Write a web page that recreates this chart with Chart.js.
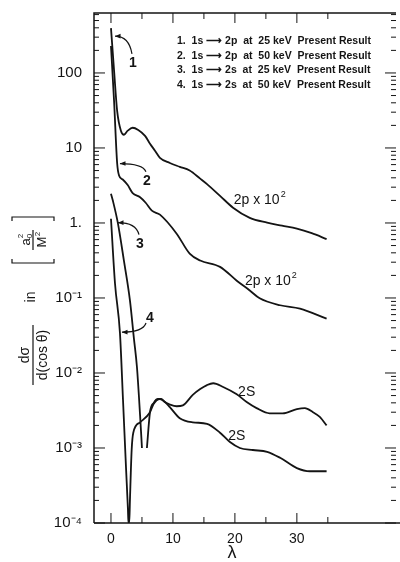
<!DOCTYPE html>
<html>
<head>
<meta charset="utf-8">
<script src="https://cdn.jsdelivr.net/npm/chart.js@4/dist/chart.umd.min.js"></script>
<style>
  html, body { margin: 0; padding: 0; background: #fff; }
  #chart { display: block; }
</style>
</head>
<body>
<canvas id="chart" width="400" height="562"></canvas>
<script>
// values: λ and dσ/d(cos θ) in a0²/M²

// 1. 1s -> 2p at 25 keV (x 10²)
const lam1 = [0, 0.5, 1.0, 1.6, 2.1, 2.7, 3.5, 4.4, 5.5, 6.3, 7.1, 7.9, 9.5, 11.1, 12.7, 14.4, 15.5, 17.6, 19.7, 22.4, 25.2, 27.6, 30.0, 32.4, 34.8];
const val1 = [396, 107, 31, 17, 15, 17, 18.6, 17.4, 14.5, 11.4, 9.2, 7.4, 6.3, 5.6, 5.0, 3.9, 3.3, 2.3, 1.6, 1.17, 1.01, 0.92, 0.84, 0.73, 0.61];

// 2. 1s -> 2p at 50 keV (x 10²)
const lam2 = [0, 0.5, 1.0, 1.3, 1.9, 2.7, 3.5, 4.7, 5.6, 6.6, 7.9, 10.6, 12.7, 14.4, 17.6, 20.3, 22.4, 24.0, 27.3, 30.5, 34.8];
const val2 = [229, 42, 6.2, 4.3, 3.8, 3.2, 2.5, 2.2, 1.86, 1.46, 1.29, 0.72, 0.39, 0.316, 0.26, 0.17, 0.126, 0.099, 0.080, 0.072, 0.053];

// 3. 1s -> 2s at 25 keV (null = break at the zero near λ = 5)
const lam3 = [0, 0.3, 1.1, 2.1, 3.06, 3.7, 4.19, 4.7, 5.0, 5.4, 5.8, 6.3, 6.9, 7.6, 8.1, 8.7, 9.5, 10.6, 11.6, 13.2, 14.4, 15.5, 16.5, 18.1, 20.3, 21.9, 23.5, 25.6, 27.7, 30.0, 31.3, 32.6, 33.7, 34.8];
const val3 = [2.46, 1.99, 1.01, 0.31, 0.093, 0.029, 0.012, 0.0027, 0.001, null, 0.001, 0.0030, 0.0040, 0.0045, 0.0045, 0.0041, 0.0038, 0.0036, 0.0037, 0.0051, 0.0061, 0.0069, 0.0073, 0.0065, 0.0052, 0.0041, 0.0034, 0.0029, 0.0029, 0.0033, 0.0034, 0.0030, 0.0026, 0.0020];

// 4. 1s -> 2s at 50 keV
const lam4 = [0, 0.65, 1.45, 1.94, 2.42, 2.74, 2.82, 2.95, 3.06, 3.34, 3.6, 4.7, 6.3, 6.9, 7.9, 8.7, 9.5, 11.1, 13.2, 15.5, 17.6, 19.2, 20.8, 22.9, 25.2, 27.3, 30.0, 32.1, 34.8];
const val4 = [1.14, 0.156, 0.034, 0.0044, 0.00056, 0.00015, 0.0001, 0.0001, 0.0002, 0.00095, 0.0016, 0.0022, 0.0030, 0.0039, 0.0045, 0.0041, 0.0035, 0.0025, 0.0022, 0.0021, 0.0016, 0.0012, 0.0010, 0.00094, 0.00089, 0.00074, 0.00054, 0.00049, 0.00049];

const legendLines = [
    '1.  1s \u27F6 2p  at  25 keV  Present Result',
    '2.  1s \u27F6 2p  at  50 keV  Present Result',
    '3.  1s \u27F6 2s  at  25 keV  Present Result',
    '4.  1s \u27F6 2s  at  50 keV  Present Result',
];

// tick values / labels
const xTickValues = [0, 5, 10, 15, 20, 25, 30, 35];
const xLabelValues = [0, 10, 20, 30];
const yDecades = [-4, -3, -2, -1, 0, 1, 2];
const yDecadeLabels = ['10\u207B\u2074', '10\u207B\u00B3', '10\u207B\u00B2', '10\u207B\u00B9', '1.', '10', '100'];

const X_MIN = -2.74, X_MAX = 46, Y_MIN = 1e-4, Y_MAX = 630;
const FONT = '"Liberation Sans", Arial, sans-serif';
const INK = '#141414';

function pts(xs, ys) {
    return xs.map((x, i) => ({ x: x, y: ys[i] }));
}

function decadeOf(v) {
    const e = Math.round(Math.log10(v));
    return Math.abs(Math.log10(v) - e) < 1e-6 ? e : null;
}

// curve labels: text, label position (λ, value), arrow tip (λ, value), arrow start offset
const curveTags = [
    { text: '1', at: [3.55, 136], tip: [0.65, 309], from: [-1, -9] },
    { text: '2', at: [5.8, 3.66], tip: [1.45, 6.2], from: [-1, -9] },
    { text: '3', at: [4.68, 0.53], tip: [1.13, 1.01], from: [-1, -9] },
    { text: '4', at: [6.3, 0.054], tip: [1.77, 0.035], from: [-4, 5] },
];
const curveNotes = [
    { text: '2p x 10', sup: '2', at: [24.0, 1.99] },
    { text: '2p x 10', sup: '2', at: [25.8, 0.166] },
    { text: '2S', at: [21.9, 0.0056] },
    { text: '2S', at: [20.3, 0.00144] },
];

function line(ctx, x1, y1, x2, y2) {
    ctx.beginPath();
    ctx.moveTo(x1, y1);
    ctx.lineTo(x2, y2);
    ctx.stroke();
}

const decorations = {
    id: 'decorations',
    afterDraw(chart) {
        const { ctx, chartArea: a, scales: { x, y } } = chart;
        ctx.save();
        ctx.strokeStyle = INK;
        ctx.fillStyle = INK;

        // frame: left, top, bottom; right side only has ticks
        ctx.lineWidth = 1.5;
        ctx.beginPath();
        ctx.moveTo(a.left, a.bottom);
        ctx.lineTo(a.left, a.top);
        ctx.lineTo(a.right, a.top);
        ctx.moveTo(a.left, a.bottom);
        ctx.lineTo(chart.width, a.bottom);
        ctx.stroke();

        // inward ticks
        ctx.lineWidth = 1;
        y.ticks.forEach(t => {
            const py = y.getPixelForValue(t.value);
            const len = decadeOf(t.value) !== null ? 11 : 5;
            line(ctx, a.left, py, a.left + len, py);
            line(ctx, a.right, py, a.right - len, py);
        });
        x.ticks.forEach(t => {
            const px = x.getPixelForValue(t.value);
            const len = t.value % 10 === 0 ? 10 : 6;
            line(ctx, px, a.bottom, px, a.bottom - len);
            line(ctx, px, a.top, px, a.top + len);
        });

        // legend block
        ctx.font = 'bold 10.5px ' + FONT;
        ctx.textAlign = 'left';
        ctx.textBaseline = 'middle';
        legendLines.forEach((s, i) => ctx.fillText(s, 177, 41 + i * 14.7));

        // numbered tags with curved arrows
        ctx.font = 'bold 14px ' + FONT;
        ctx.textAlign = 'center';
        ctx.lineWidth = 1.2;
        curveTags.forEach(t => {
            const lx = x.getPixelForValue(t.at[0]), ly = y.getPixelForValue(t.at[1]);
            const tx = x.getPixelForValue(t.tip[0]), ty = y.getPixelForValue(t.tip[1]);
            ctx.fillText(t.text, lx, ly);
            const sx = lx + t.from[0], sy = ly + t.from[1];
            const cx = sx - 3, cy = ty;
            ctx.beginPath();
            ctx.moveTo(sx, sy);
            ctx.quadraticCurveTo(cx, cy, tx, ty);
            ctx.stroke();
            const ang = Math.atan2(ty - cy, tx - cx);
            ctx.beginPath();
            ctx.moveTo(tx, ty);
            ctx.lineTo(tx - 6 * Math.cos(ang - 0.4), ty - 6 * Math.sin(ang - 0.4));
            ctx.lineTo(tx - 6 * Math.cos(ang + 0.4), ty - 6 * Math.sin(ang + 0.4));
            ctx.closePath();
            ctx.fill();
        });

        // notes on the curves
        curveNotes.forEach(n => {
            const px = x.getPixelForValue(n.at[0]), py = y.getPixelForValue(n.at[1]);
            ctx.font = '14px ' + FONT;
            ctx.textAlign = 'left';
            const w = ctx.measureText(n.text).width + (n.sup ? 6 : 0);
            ctx.fillText(n.text, px - w / 2, py);
            if (n.sup) {
                ctx.font = '9px ' + FONT;
                ctx.fillText(n.sup, px + w / 2 - 5, py - 6);
            }
        });

        // x axis title
        ctx.font = '18px ' + FONT;
        ctx.textAlign = 'center';
        ctx.fillText('\u03BB', 232, 553);

        // y axis title, rotated
        ctx.save();
        ctx.translate(33, 355);
        ctx.rotate(-Math.PI / 2);
        ctx.font = '14px ' + FONT;
        ctx.textAlign = 'center';
        ctx.textBaseline = 'alphabetic';
        ctx.fillText('d\u03C3', 0, -4);
        ctx.lineWidth = 1.2;
        line(ctx, -30, 0, 30, 0);
        ctx.textBaseline = 'top';
        ctx.fillText('d(cos \u03B8)', 0, 3);
        ctx.restore();

        ctx.save();
        ctx.translate(31, 297);
        ctx.rotate(-Math.PI / 2);
        ctx.font = '14px ' + FONT;
        ctx.textAlign = 'center';
        ctx.textBaseline = 'middle';
        ctx.fillText('in', 0, 0);
        ctx.restore();

        ctx.save();
        ctx.translate(33, 240);
        ctx.rotate(-Math.PI / 2);
        ctx.lineWidth = 1.2;
        ctx.beginPath();
        ctx.moveTo(-19, -21); ctx.lineTo(-23, -21); ctx.lineTo(-23, 21); ctx.lineTo(-19, 21);
        ctx.moveTo(19, -21); ctx.lineTo(23, -21); ctx.lineTo(23, 21); ctx.lineTo(19, 21);
        ctx.stroke();
        line(ctx, -10, 0, 10, 0);
        ctx.font = '13px ' + FONT;
        ctx.textAlign = 'center';
        ctx.textBaseline = 'alphabetic';
        ctx.fillText('a', -2, -3);
        ctx.font = '8px ' + FONT;
        ctx.fillText('0', 4, -1);
        ctx.fillText('2', 4, -10);
        ctx.font = '13px ' + FONT;
        ctx.textBaseline = 'top';
        ctx.fillText('M', -2, 3);
        ctx.font = '8px ' + FONT;
        ctx.fillText('2', 6, 1);
        ctx.restore();

        ctx.restore();
    }
};

const lineStyle = {
    borderColor: INK,
    borderWidth: 1.8,
    pointRadius: 0,
    fill: false,
    cubicInterpolationMode: 'monotone',
    spanGaps: false,
};

new Chart(document.getElementById('chart'), {
    type: 'line',
    data: {
        datasets: [
            { label: '1s\u21922p at 25 keV', data: pts(lam1, val1), ...lineStyle },
            { label: '1s\u21922p at 50 keV', data: pts(lam2, val2), ...lineStyle },
            { label: '1s\u21922s at 25 keV', data: pts(lam3, val3), ...lineStyle },
            { label: '1s\u21922s at 50 keV', data: pts(lam4, val4), ...lineStyle },
        ]
    },
    options: {
        responsive: false,
        animation: false,
        devicePixelRatio: 1,
        layout: { padding: { top: 12, right: 4, left: 0, bottom: 0 } },
        scales: {
            x: {
                type: 'linear',
                min: X_MIN,
                max: X_MAX,
                afterBuildTicks: s => { s.ticks = xTickValues.map(v => ({ value: v })); },
                afterFit: s => { s.height = 39; },
                grid: { display: false },
                border: { display: false },
                ticks: {
                    autoSkip: false,
                    maxRotation: 0,
                    padding: 0,
                    color: INK,
                    font: { family: FONT, size: 14 },
                    callback: v => xLabelValues.includes(v) ? String(v) : '',
                },
            },
            y: {
                type: 'logarithmic',
                min: Y_MIN,
                max: Y_MAX,
                afterBuildTicks: s => {
                    const ticks = [];
                    yDecades.forEach(e => {
                        for (let m = 1; m <= 9; m++) {
                            const v = m * Math.pow(10, e);
                            if (v <= Y_MAX * 1.0001) ticks.push({ value: v });
                        }
                    });
                    s.ticks = ticks;
                },
                afterFit: s => { s.width = 94; },
                grid: { display: false },
                border: { display: false },
                ticks: {
                    autoSkip: false,
                    padding: 4,
                    color: INK,
                    font: { family: FONT, size: 15 },
                    callback: v => {
                        const e = decadeOf(v);
                        return e === null ? '' : yDecadeLabels[yDecades.indexOf(e)];
                    },
                },
            },
        },
        plugins: {
            legend: { display: false },
            tooltip: { enabled: false },
        }
    },
    plugins: [decorations]
});
</script>
</body>
</html>
